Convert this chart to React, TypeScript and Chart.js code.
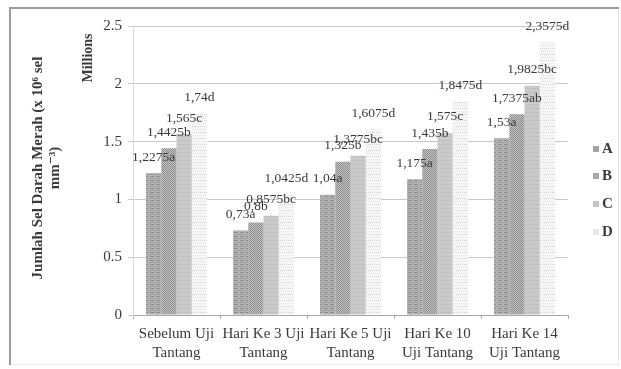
import React, { useEffect, useRef } from "react";
import { Chart, registerables } from "chart.js";

Chart.register(...registerables);

const categories: string[][] = [
  ["Sebelum Uji", "Tantang"],
  ["Hari Ke 3 Uji", "Tantang"],
  ["Hari Ke 5 Uji", "Tantang"],
  ["Hari Ke 10", "Uji Tantang"],
  ["Hari Ke 14", "Uji Tantang"],
];
const seriesNames = ["A", "B", "C", "D"];
const valuesA = [1.2275, 0.73, 1.04, 1.175, 1.53];
const valuesB = [1.4425, 0.8, 1.325, 1.435, 1.7375];
const valuesC = [1.565, 0.8575, 1.3775, 1.575, 1.9825];
const valuesD = [1.74, 1.0425, 1.6075, 1.8475, 2.3575];
const lettersA = ["a", "a", "a", "a", "a"];
const lettersB = ["b", "b", "b", "b", "ab"];
const lettersC = ["c", "bc", "bc", "c", "bc"];
const lettersD = ["d", "d", "d", "d", "d"];
const yTicks = [0, 0.5, 1, 1.5, 2, 2.5];

const FONT = "'Liberation Serif', 'DejaVu Serif', serif";
const TEXT = "#3a3a3a";

function makePattern(kind: string): CanvasPattern | string {
  const c = document.createElement("canvas");
  const ctx = c.getContext("2d");
  if (!ctx) return "#bbb";
  if (kind === "A") {
    c.width = 6; c.height = 4;
    ctx.fillStyle = "#b4b4b4"; ctx.fillRect(0, 0, 6, 4);
    ctx.fillStyle = "#8c8c8c"; ctx.fillRect(0, 0, 4, 1);
    ctx.fillStyle = "#a2a2a2"; ctx.fillRect(0, 2, 6, 1);
  } else if (kind === "B") {
    c.width = 2; c.height = 2;
    ctx.fillStyle = "#c2c2c2"; ctx.fillRect(0, 0, 2, 2);
    ctx.fillStyle = "#8e8e8e"; ctx.fillRect(0, 0, 1, 1); ctx.fillRect(1, 1, 1, 1);
  } else if (kind === "C") {
    c.width = 4; c.height = 4;
    ctx.fillStyle = "#cacaca"; ctx.fillRect(0, 0, 4, 4);
    ctx.fillStyle = "#c0c0c0"; ctx.fillRect(0, 0, 4, 1);
  } else {
    c.width = 4; c.height = 6;
    ctx.fillStyle = "#f6f6f6"; ctx.fillRect(0, 0, 4, 6);
    ctx.fillStyle = "#d2d2d2"; ctx.fillRect(0, 0, 1, 1); ctx.fillRect(2, 0, 1, 1);
    ctx.fillStyle = "#e4e4e4"; ctx.fillRect(1, 3, 1, 1); ctx.fillRect(3, 3, 1, 1);
  }
  const p = ctx.createPattern(c, "repeat");
  return p || "#bbb";
}

const legendColors = ["#a4a4a4", "#a8a8a8", "#c6c6c6", "#e8e8e8"];

export default function App() {
  const ref = useRef<HTMLCanvasElement>(null);
  useEffect(() => {
    document.body.style.margin = "0";
    const canvas = ref.current;
    if (!canvas) return;
    const letters = [lettersA, lettersB, lettersC, lettersD];
    const values = [valuesA, valuesB, valuesC, valuesD];

    const framePlugin = {
      id: "frame",
      beforeDraw(chart: any) {
        const ctx = chart.ctx;
        ctx.save();
        ctx.fillStyle = "#ffffff";
        ctx.fillRect(0, 0, chart.width, chart.height);
        ctx.fillStyle = "#e6e6e6";
        ctx.fillRect(618, 8, 1, 358);
        ctx.fillRect(10, 364, 609, 1);
        ctx.fillStyle = "#9c9c9c";
        ctx.fillRect(9, 7, 610, 2);
        ctx.fillRect(9, 7, 2, 358);
        ctx.restore();
      },
      afterDraw(chart: any) {
        const ctx = chart.ctx;
        ctx.save();
        ctx.fillStyle = TEXT;
        ctx.textAlign = "center";
        ctx.textBaseline = "middle";
        ctx.translate(38, 168);
        ctx.rotate(-Math.PI / 2);
        ctx.font = `bold 15px ${FONT}`;
        ctx.fillText("Jumlah Sel Darah Merah (x 10\u2076 sel", 0, 0);
        ctx.fillText("mm\u207B\u00B3)", 0, 17);
        ctx.restore();
        ctx.save();
        ctx.fillStyle = TEXT;
        ctx.textAlign = "center";
        ctx.textBaseline = "middle";
        ctx.translate(88, 58);
        ctx.rotate(-Math.PI / 2);
        ctx.font = `bold 14px ${FONT}`;
        ctx.fillText("Millions", 0, 0);
        ctx.restore();
        ctx.save();
        ctx.font = `bold 15px ${FONT}`;
        ctx.textBaseline = "middle";
        ctx.textAlign = "left";
        const ys = [149, 176, 204, 232];
        seriesNames.forEach((n, i) => {
          ctx.fillStyle = legendColors[i];
          ctx.fillRect(593, ys[i] - 3, 6, 6);
          ctx.fillStyle = TEXT;
          ctx.fillText(n, 602, ys[i]);
        });
        ctx.restore();
      },
      afterDatasetsDraw(chart: any) {
        const ctx = chart.ctx;
        ctx.save();
        ctx.font = `13.5px ${FONT}`;
        ctx.fillStyle = TEXT;
        ctx.textAlign = "center";
        ctx.textBaseline = "middle";
        chart.data.datasets.forEach((ds: any, di: number) => {
          const meta = chart.getDatasetMeta(di);
          meta.data.forEach((el: any, i: number) => {
            const v = values[di][i];
            const txt = String(v).replace(".", ",") + letters[di][i];
            ctx.fillText(txt, el.x, el.y - 16);
          });
        });
        ctx.restore();
      },
    };

    const chart = new Chart(canvas, {
      type: "bar",
      data: {
        labels: categories,
        datasets: seriesNames.map((n, i) => ({
          label: n,
          data: values[i],
          backgroundColor: makePattern(n) as any,
          borderWidth: 0,
          categoryPercentage: 0.7,
          barPercentage: 1.0,
        })),
      },
      options: {
        responsive: false,
        animation: false,
        layout: { padding: { left: 0, top: 26, right: 53, bottom: 0 } },
        plugins: {
          legend: { display: false },
          tooltip: { enabled: false },
          title: { display: false },
        },
        scales: {
          x: {
            afterFit: (s: any) => { s.height = 54; },
            grid: {
              display: true,
              offset: true,
              drawOnChartArea: false,
              drawTicks: true,
              tickLength: 4,
              color: "#b0b0b0",
            },
            border: { display: true, color: "#a8a8a8", width: 1 },
            ticks: {
              color: TEXT,
              font: { family: FONT, size: 15, lineHeight: 1.3 },
              padding: 5,
              maxRotation: 0,
              autoSkip: false,
            },
          },
          y: {
            min: 0,
            max: 2.5,
            afterFit: (s: any) => { s.width = 133; },
            afterBuildTicks: (s: any) => { s.ticks = yTicks.map((v) => ({ value: v })); },
            grid: {
              color: "#c8c8c8",
              lineWidth: 1,
              tickLength: 5,
              drawTicks: true,
            },
            border: { display: true, color: "#dcdcdc" },
            ticks: {
              color: TEXT,
              font: { family: FONT, size: 15 },
              padding: 6,
              callback: (v: any) => String(v),
            },
          },
        },
      },
      plugins: [framePlugin],
    });
    return () => chart.destroy();
  }, []);
  return <canvas ref={ref} width={621} height={369} style={{ display: "block" }} />;
}
